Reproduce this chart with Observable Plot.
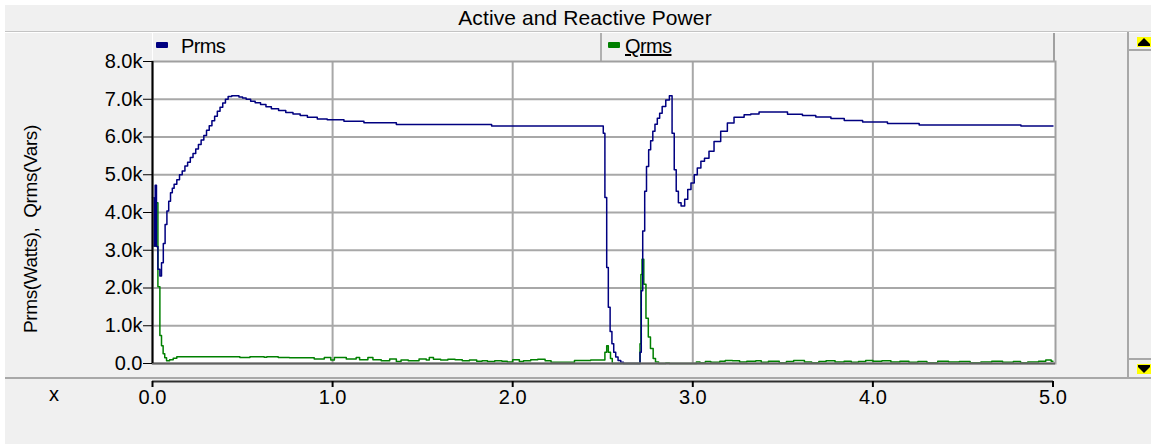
<!DOCTYPE html>
<html>
<head>
<meta charset="utf-8">
<script src="https://cdn.jsdelivr.net/npm/d3@7"></script>
<script src="https://cdn.jsdelivr.net/npm/@observablehq/plot@0.6"></script>
<style>
  html, body { margin: 0; padding: 0; background: #ffffff; }
  #wrap { position: relative; width: 1151px; height: 444px; overflow: hidden;
          font-family: "Liberation Sans", Arial, sans-serif; color: #000; }
  .abs { position: absolute; }
  #chart svg { background: transparent; overflow: visible; }
</style>
</head>
<body>
<div id="wrap">
  <div class="abs" style="left:5px;top:5px;width:1146px;height:439px;background:#f0f0f0"></div>
  <div class="abs" id="title" style="left:5px;top:6px;width:1160px;text-align:center;font-size:21px;letter-spacing:0.1px;line-height:24px"></div>
  <div class="abs" style="left:5px;top:31px;width:1146px;height:1px;background:#c4c4c4"></div>
  <div class="abs" style="left:5px;top:32px;width:1146px;height:1px;background:#ffffff"></div>
  <!-- legend band -->
  <div class="abs" style="left:152px;top:33px;width:1px;height:28px;background:#ffffff"></div>
  <div class="abs" style="left:600px;top:33px;width:2px;height:28px;background:#b0b0b0"></div>
  <div class="abs" style="left:1053px;top:33px;width:2px;height:28px;background:#a0a0a0"></div>
  <div id="legend"></div>
  <div id="chart" class="abs" style="left:0;top:0"></div>
  <!-- y label and x label -->
  <div class="abs" id="ylabel" style="left:31px;top:229px;transform:translate(-50%,-50%) rotate(-90deg);white-space:pre;font-size:19px;letter-spacing:-0.4px"></div>
  <div class="abs" id="xlabel" style="left:54px;top:394px;transform:translate(-50%,-50%);font-size:20px"></div>
  <!-- bottom separator -->
  <div class="abs" style="left:5px;top:377px;width:1146px;height:2px;background:#a8a8a8"></div>
  <!-- scrollbar -->
  <div class="abs" style="left:1127px;top:32px;width:2px;height:347px;background:#a8a8a8"></div>
  <div class="abs" style="left:1129px;top:49px;width:22px;height:2px;background:#a8a8a8"></div>
  <div class="abs" style="left:1129px;top:358px;width:22px;height:2px;background:#a8a8a8"></div>
  <div class="abs" style="left:1137px;top:37px;width:14px;height:10px;background:#ffff00"></div>
  <div class="abs" style="left:1138px;top:38px;width:0;height:0;border-left:6px solid transparent;border-right:6px solid transparent;border-bottom:6px solid #000"></div>
  <div class="abs" style="left:1138px;top:44px;width:12px;height:2px;background:#000"></div>
  <div class="abs" style="left:1137px;top:364px;width:14px;height:10px;background:#ffff00"></div>
  <div class="abs" style="left:1138px;top:365px;width:12px;height:2px;background:#000"></div>
  <div class="abs" style="left:1138px;top:367px;width:0;height:0;border-left:6px solid transparent;border-right:6px solid transparent;border-top:6px solid #000"></div>
</div>
<script>
// ---------- data ----------
const chartTitle = "Active and Reactive Power";
const yAxisLabel = "Prms(Watts),  Qrms(Vars)";
const xAxisLabel = "x";
const seriesNames = ["Prms", "Qrms"];
const seriesColors = ["#000080", "#008000"];
const xTicks = [0, 1, 2, 3, 4, 5];
const yTicks = [0, 1000, 2000, 3000, 4000, 5000, 6000, 7000, 8000];

const prmsT = [0.000, 0.008, 0.015, 0.022, 0.030, 0.041, 0.050, 0.060, 0.070, 0.080,
  0.090, 0.100, 0.110, 0.120, 0.135, 0.150, 0.165, 0.180, 0.195, 0.210,
  0.225, 0.240, 0.255, 0.270, 0.285, 0.300, 0.315, 0.330, 0.345, 0.360,
  0.375, 0.390, 0.405, 0.420, 0.440, 0.460, 0.480, 0.500, 0.520, 0.545,
  0.570, 0.600, 0.630, 0.660, 0.700, 0.740, 0.780, 0.820, 0.860, 0.915,
  0.970, 1.063, 1.174, 1.354, 1.883, 2.503, 2.512, 2.522, 2.531, 2.541,
  2.551, 2.561, 2.572, 2.585, 2.600, 2.615, 2.707, 2.714, 2.722, 2.733,
  2.743, 2.755, 2.766, 2.778, 2.790, 2.803, 2.816, 2.830, 2.850, 2.870,
  2.885, 2.897, 2.908, 2.920, 2.935, 2.955, 2.972, 2.990, 3.008, 3.025,
  3.045, 3.065, 3.090, 3.118, 3.155, 3.192, 3.229, 3.285, 3.322, 3.368,
  3.526, 3.609, 3.683, 3.767, 3.841, 3.943, 4.081, 4.257, 4.822, 5.000];
const prmsV = [4390, 3110, 4720, 3100, 2500, 2320, 2670, 3180, 3680, 4040,
  4300, 4520, 4640, 4750, 4870, 5000, 5100, 5230, 5330, 5460,
  5560, 5680, 5800, 5920, 6040, 6180, 6300, 6430, 6550, 6680,
  6790, 6900, 7000, 7070, 7090, 7090, 7060, 7030, 7000, 6950,
  6910, 6860, 6800, 6750, 6700, 6650, 6610, 6570, 6520, 6480,
  6460, 6420, 6380, 6330, 6290, 6100, 4400, 2540, 1490, 850,
  520, 300, 170, 80, 30, 0, 300, 1930, 3510, 4560,
  5220, 5660, 5900, 6150, 6340, 6500, 6630, 6810, 6980, 7090,
  6100, 5130, 4560, 4260, 4170, 4350, 4610, 4780, 5000, 5180,
  5360, 5440, 5620, 5880, 6150, 6370, 6520, 6590, 6610, 6660,
  6600, 6570, 6530, 6490, 6440, 6400, 6360, 6320, 6290, 6290];

const qrmsT = [0.000, 0.017, 0.030, 0.041, 0.050, 0.059, 0.068, 0.078, 0.095, 0.115,
  0.135, 0.485, 0.541, 0.620, 0.635, 0.698, 0.760, 0.830, 0.898, 0.954,
  0.990, 1.010, 1.076, 1.131, 1.150, 1.196, 1.224, 1.270, 1.317, 1.354,
  1.380, 1.420, 1.480, 1.520, 1.537, 1.560, 1.600, 1.640, 1.680, 1.720,
  1.760, 1.800, 1.830, 1.860, 1.900, 1.940, 1.970, 2.000, 2.037, 2.060,
  2.100, 2.139, 2.180, 2.213, 2.343, 2.433, 2.512, 2.522, 2.531, 2.543,
  2.553, 2.563, 2.707, 2.712, 2.718, 2.728, 2.740, 2.753, 2.765, 2.780,
  2.793, 2.810, 2.850, 2.870, 3.020, 3.040, 3.070, 3.100, 3.150, 3.180,
  3.220, 3.260, 3.300, 3.350, 3.380, 3.420, 3.480, 3.520, 3.560, 3.620,
  3.660, 3.700, 3.740, 3.790, 3.840, 3.880, 3.920, 3.960, 4.000, 4.050,
  4.100, 4.150, 4.200, 4.250, 4.300, 4.360, 4.420, 4.480, 4.540, 4.600,
  4.660, 4.720, 4.780, 4.820, 4.860, 4.920, 4.960, 4.990, 5.000];
const qrmsV = [3110, 4260, 2030, 740, 470, 260, 150, 70, 100, 140,
  180, 160, 180, 165, 180, 160, 150, 155, 120, 160,
  90, 160, 120, 160, 100, 160, 100, 70, 120, 50,
  90, 70, 120, 90, 160, 110, 90, 110, 100, 70,
  90, 60, 70, 50, 70, 60, 40, 100, 50, 70,
  100, 110, 70, 30, 80, 90, 300, 470, 300, 130,
  0, 0, 520, 2360, 2760, 2100, 1200, 700, 400, 130,
  40, 0, 10, 0, 40, 20, 50, 30, 60, 80,
  70, 40, 60, 70, 30, 60, 20, 50, 80, 40,
  20, 50, 70, 40, 60, 30, 50, 80, 60, 70,
  40, 60, 30, 50, 20, 60, 40, 50, 20, 40,
  60, 30, 50, 20, 40, 60, 90, 60, 60];

// ---------- build ----------
const prms = prmsT.map((t, i) => ({t, v: prmsV[i]}));
const qrms = qrmsT.map((t, i) => ({t, v: qrmsV[i]}));

document.getElementById("title").textContent = chartTitle;
document.getElementById("ylabel").textContent = yAxisLabel;
document.getElementById("xlabel").textContent = xAxisLabel;

// legend
const legend = document.getElementById("legend");
const cells = [{x: 156, tx: 181}, {x: 608, tx: 625}];
seriesNames.forEach((name, i) => {
  const sw = document.createElement("div");
  sw.className = "abs";
  sw.style.cssText = `left:${cells[i].x}px;top:42px;width:12px;height:6px;border-radius:1px;background:${seriesColors[i]}`;
  legend.appendChild(sw);
  const tx = document.createElement("div");
  tx.className = "abs";
  tx.textContent = name;
  tx.style.cssText = `left:${cells[i].tx}px;top:35px;font-size:20px;letter-spacing:-0.6px;line-height:22px;` + (i === 1 ? "text-decoration:underline;" : "");
  legend.appendChild(tx);
});

const gridStyle = {stroke: "#a8a8a8", strokeWidth: 2, strokeOpacity: 1};
const chart = Plot.plot({
  width: 1151,
  height: 444,
  marginLeft: 152,
  marginRight: 96,
  marginTop: 61,
  marginBottom: 81,
  x: {domain: [0, 5.014]},
  y: {domain: [0, 8000]},
  style: {background: "transparent", fontFamily: "Liberation Sans, Arial, sans-serif", fontSize: "20px", color: "#000", overflow: "visible"},
  marks: [
    Plot.frame({fill: "#ffffff", stroke: null}),
    Plot.gridX(xTicks.slice(1, -1), gridStyle),
    Plot.gridY(yTicks.slice(1, -1), gridStyle),
    Plot.line(qrms, {x: "t", y: "v", curve: "step-after", stroke: seriesColors[1], strokeWidth: 1.5}),
    Plot.line(prms, {x: "t", y: "v", curve: "step-after", stroke: seriesColors[0], strokeWidth: 1.5}),
    Plot.frame({stroke: "#a0a0a0", strokeWidth: 2}),
    Plot.ruleY([0], {stroke: "#606060", strokeWidth: 2}),
    Plot.ruleX([0], {stroke: "#000000", strokeWidth: 2}),
    Plot.axisY(yTicks, {
      anchor: "left", tickSize: 9, tickPadding: 1, label: null,
      tickFormat: d => d === 0 ? "0.0" : (d / 1000).toFixed(1) + "k",
      fontSize: 20, letterSpacing: -1
    }),
    Plot.ruleY([0], {dy: 18, stroke: "#303030", strokeWidth: 2, insetRight: 2}),
    Plot.axisX(xTicks, {
      anchor: "bottom", tickSize: 6, tickPadding: 2, dy: 18, label: null,
      tickFormat: d => d.toFixed(1), fontSize: 20, strokeWidth: 2, letterSpacing: -1
    })
  ]
});
document.getElementById("chart").appendChild(chart);
</script>
</body>
</html>
